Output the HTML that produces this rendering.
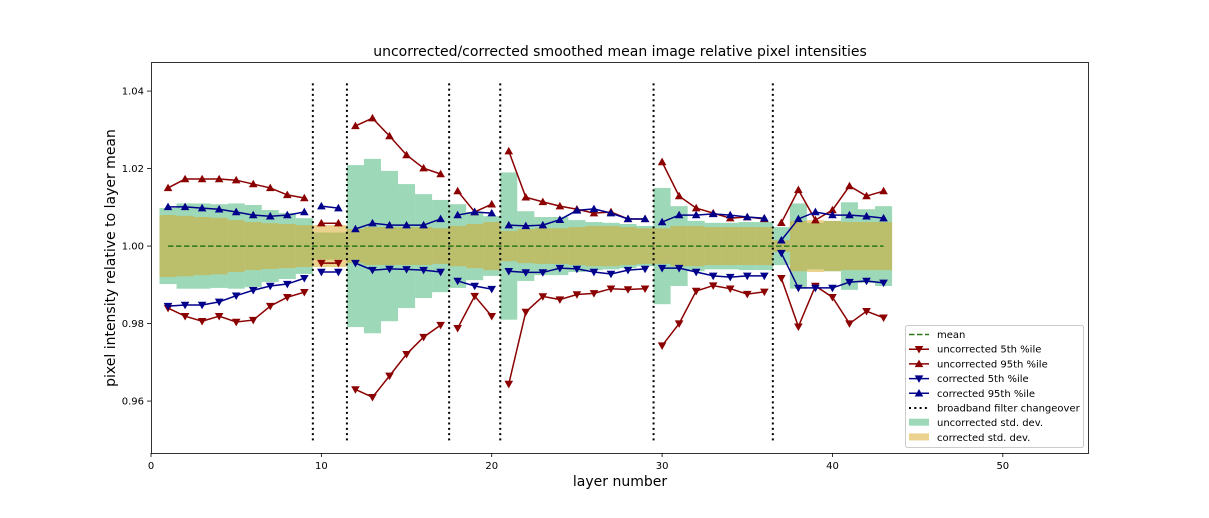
<!DOCTYPE html>
<html><head><meta charset="utf-8"><style>
body{margin:0;background:#fff;font-family:"Liberation Sans","DejaVu Sans",sans-serif;}
svg{display:block}
text{font-family:"DejaVu Sans","Liberation Sans",sans-serif;}
</style></head><body>
<svg id="chart" width="1209" height="518" viewBox="0 0 1209 518">
<rect width="1209" height="518" fill="#fff"/>
<text x="620" y="56" text-anchor="middle" font-size="14">uncorrected/corrected smoothed mean image relative pixel intensities</text>
<g id="bands"></g>
<g id="vlines"></g>
<g id="series"></g>
<rect x="151.5" y="62.5" width="937" height="391" fill="none" stroke="#000" stroke-width="0.8"/>
<g id="axes"></g>
<text x="620" y="486" text-anchor="middle" font-size="14">layer number</text>
<text transform="translate(115,258) rotate(-90)" text-anchor="middle" font-size="14">pixel intensity relative to layer mean</text>
<g id="legend"></g>
</svg>
<script>
const layers = [1,2,3,4,5,6,7,8,9,10,11,12,13,14,15,16,17,18,19,20,21,22,23,24,25,26,27,28,29,30,31,32,33,34,35,36,37,38,39,40,41,42,43];
const segmentStarts = [1,10,12,18,21,30,37];
const changeovers = [9.5,11.5,17.5,20.5,29.5,36.5];
const unc95 = [1.0150,1.0173,1.0173,1.0173,1.0170,1.0160,1.0150,1.0132,1.0124, 1.0059,1.0059, 1.0310,1.0330,1.0284,1.0235,1.0201,1.0186, 1.0142,1.0088,1.0108, 1.0245,1.0126,1.0114,1.0103,1.0095,1.0085,1.0088,1.0070,1.0070, 1.0217,1.0129,1.0098,1.0085,1.0072,1.0075,1.0070, 1.0060,1.0145,1.0067,1.0093,1.0155,1.0129,1.0142];
const unc5 = [0.9840,0.9819,0.9806,0.9819,0.9804,0.9809,0.9845,0.9868,0.9881, 0.9956,0.9956, 0.9630,0.9610,0.9665,0.9721,0.9765,0.9796, 0.9788,0.9871,0.9819, 0.9644,0.9830,0.9870,0.9862,0.9875,0.9878,0.9890,0.9888,0.9890, 0.9743,0.9800,0.9884,0.9898,0.9890,0.9876,0.9882, 0.9917,0.9792,0.9897,0.9868,0.9800,0.9832,0.9815];
const cor95 = [1.0101,1.0101,1.0098,1.0095,1.0088,1.0080,1.0077,1.0080,1.0088, 1.0103,1.0098, 1.0044,1.0059,1.0054,1.0054,1.0054,1.0070, 1.0080,1.0088,1.0085, 1.0054,1.0052,1.0054,1.0068,1.0092,1.0096,1.0085,1.0070,1.0070, 1.0062,1.0080,1.0080,1.0083,1.0080,1.0075,1.0072, 1.0015,1.0070,1.0088,1.0080,1.0080,1.0077,1.0072];
const cor5 = [0.9845,0.9848,0.9848,0.9856,0.9872,0.9886,0.9897,0.9902,0.9917, 0.9933,0.9933, 0.9956,0.9938,0.9941,0.9940,0.9938,0.9933, 0.9910,0.9897,0.9889, 0.9935,0.9932,0.9932,0.9943,0.9941,0.9933,0.9928,0.9938,0.9941, 0.9943,0.9943,0.9933,0.9923,0.9920,0.9923,0.9923, 0.9982,0.9892,0.9892,0.9892,0.9907,0.9910,0.9905];
const uncStd = [0.0098,0.0110,0.0110,0.0108,0.0110,0.0106,0.0093,0.0085,0.0072, 0.0035,0.0035, 0.0209,0.0225,0.0194,0.0160,0.0134,0.0119, 0.0108,0.0088,0.0077, 0.0190,0.0090,0.0075,0.0075,0.0067,0.0062,0.0060,0.0057,0.0052, 0.0150,0.0103,0.0065,0.0060,0.0060,0.0062,0.0062, 0.0049,0.0110,0.0060,0.0065,0.0113,0.0095,0.0103];
const corStd = [0.0080,0.0078,0.0075,0.0073,0.0067,0.0062,0.0059,0.0057,0.0054, 0.0054,0.0054, 0.0044,0.0049,0.0049,0.0049,0.0049,0.0046, 0.0052,0.0057,0.0062, 0.0039,0.0044,0.0046,0.0046,0.0049,0.0052,0.0052,0.0049,0.0046, 0.0046,0.0052,0.0052,0.0049,0.0049,0.0049,0.0049, 0.0015,0.0065,0.0067,0.0065,0.0062,0.0062,0.0062];
const xTicks = [0,10,20,30,40,50];
const yTicks = [0.96,0.98,1.00,1.02,1.04];
const yTickLabels = ["0.96","0.98","1.00","1.02","1.04"];

const NS="http://www.w3.org/2000/svg";
const X0=151, X1=1088, XMIN=0, XMAX=55;
const YMAX=1.0475, YMIN=0.9466, PT=62, PB=453;
const xs=v=>X0+(v-XMIN)/(XMAX-XMIN)*(X1-X0);
const ys=v=>PT+(YMAX-v)/(YMAX-YMIN)*(PB-PT);
function mk(tag,attrs,parent){const e=document.createElementNS(NS,tag);for(const k in attrs)e.setAttribute(k,attrs[k]);parent.appendChild(e);return e;}

const bands=document.getElementById('bands');
layers.forEach((l,i)=>{
  const r=mk('rect',{x:xs(l-0.5),width:xs(l+0.5)-xs(l-0.5),y:ys(1+uncStd[i]),height:ys(1-uncStd[i])-ys(1+uncStd[i]),fill:'rgb(60,179,113)','fill-opacity':0.5},bands);
  
  
});
layers.forEach((l,i)=>{
  const r=mk('rect',{x:xs(l-0.5),width:xs(l+0.5)-xs(l-0.5),y:ys(1+corStd[i]),height:ys(1-corStd[i])-ys(1+corStd[i]),fill:'rgb(218,165,32)','fill-opacity':0.5},bands);
  
  
});

const vl=document.getElementById('vlines');
changeovers.forEach(c=>{
  const l=mk('line',{x1:xs(c),x2:xs(c),y1:ys(1.042),y2:ys(0.9495),stroke:'#000','stroke-width':2,'stroke-dasharray':'2,3.3'},vl);
  
  
});

const sg=document.getElementById('series');
const mean=mk('line',{x1:xs(layers[0]),x2:xs(layers[layers.length-1]),y1:ys(1),y2:ys(1),stroke:'#2a7a1a','stroke-width':1.5,'stroke-dasharray':'5.5,2.5'},sg);



function tri(x,y,up,col,parent){
  const s=4.3;
  const pts=up?`${x},${y-s} ${x-s},${y+s*0.75} ${x+s},${y+s*0.75}`:`${x},${y+s} ${x-s},${y-s*0.75} ${x+s},${y-s*0.75}`;
  return mk('polygon',{points:pts,fill:col},parent);
}
function series(vals,col,up,name){
  const g=mk('g',{},sg);
  
  
  let d='';
  layers.forEach((l,i)=>{
    const cmd=(segmentStarts.includes(l))?'M':'L';
    d+=`${cmd}${xs(l)},${ys(vals[i])}`;
  });
  const p=mk('path',{d:d,fill:'none',stroke:col,'stroke-width':1.5},g);
  
  
  layers.forEach((l,i)=>{
    const t=tri(xs(l),ys(vals[i]),up,col,g);
    
    
  });
}
series(unc5,'#8b0000',false,'uncorrected-5th');
series(unc95,'#8b0000',true,'uncorrected-95th');
series(cor5,'#00008b',false,'corrected-5th');
series(cor95,'#00008b',true,'corrected-95th');

const ax=document.getElementById('axes');
xTicks.forEach(t=>{
  const l=mk('line',{x1:xs(t),x2:xs(t),y1:PB,y2:PB+4,stroke:'#000','stroke-width':0.8},ax);
  
  
  const tx=mk('text',{x:xs(t),y:PB+16,'text-anchor':'middle','font-size':10},ax);
  tx.textContent=String(t);
  
  
});
yTicks.forEach((t,i)=>{
  const l=mk('line',{x1:X0-4,x2:X0,y1:ys(t),y2:ys(t),stroke:'#000','stroke-width':0.8},ax);
  
  
  const tx=mk('text',{x:X0-7,y:ys(t)+3.5,'text-anchor':'end','font-size':10},ax);
  tx.textContent=yTickLabels[i];
  
  
});

const lg=document.getElementById('legend');
const box=mk('rect',{x:905.5,y:325.5,width:178,height:122,rx:2,fill:'#fff','fill-opacity':0.85,stroke:'#ccc'},lg);


const entries=[
 ['mean','dash','#2a7a1a'],
 ['uncorrected 5th %ile','down','#8b0000'],
 ['uncorrected 95th %ile','up','#8b0000'],
 ['corrected 5th %ile','down','#00008b'],
 ['corrected 95th %ile','up','#00008b'],
 ['broadband filter changeover','dot','#000'],
 ['uncorrected std. dev.','patch','rgb(157,217,184)'],
 ['corrected std. dev.','patch','rgb(236,210,143)']
];
entries.forEach((e,i)=>{
  const y=334.5+i*14.7;
  const g=mk('g',{},lg);
  
  
  if(e[1]==='patch'){mk('rect',{x:909,y:y-4,width:20,height:7,fill:e[2]},g);}
  else if(e[1]==='dash'){mk('line',{x1:909,x2:929,y1:y,y2:y,stroke:e[2],'stroke-width':1.5,'stroke-dasharray':'5.5,2.5'},g);}
  else if(e[1]==='dot'){mk('line',{x1:909,x2:929,y1:y,y2:y,stroke:e[2],'stroke-width':2,'stroke-dasharray':'2,3.3'},g);}
  else {mk('line',{x1:909,x2:929,y1:y,y2:y,stroke:e[2],'stroke-width':1.5},g);tri(919,y,e[1]==='up',e[2],g);}
  const t=mk('text',{x:937,y:y+3.5,'font-size':10},g);
  t.textContent=e[0];
});
</script>
</body></html>
